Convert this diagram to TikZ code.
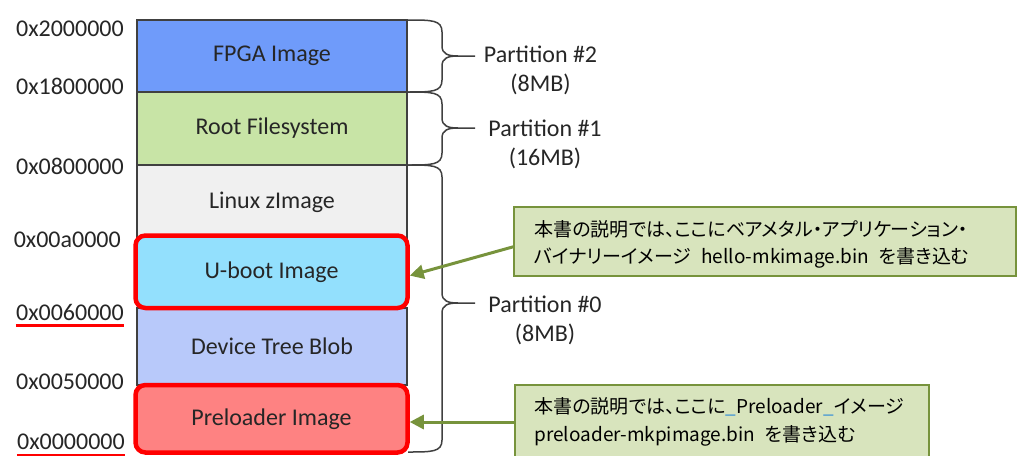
\documentclass[tikz,border=0pt]{standalone}
\usepackage{fontspec}
\setmainfont{Carlito}
\newfontfamily\cjkfont[RawFeature={+palt}]{Noto Sans CJK JP}
\usetikzlibrary{arrows.meta,calc}
\definecolor{fpgac}{HTML}{6F9BFA}
\definecolor{rootc}{HTML}{C8E4A6}
\definecolor{linuxc}{HTML}{F0F0F0}
\definecolor{ubootc}{HTML}{93E0FD}
\definecolor{dtbc}{HTML}{B8C9FA}
\definecolor{prec}{HTML}{FE8282}
\definecolor{edgec}{HTML}{404040}
\definecolor{txtc}{HTML}{262626}
\definecolor{hired}{HTML}{FF0000}
\definecolor{olivec}{HTML}{77933C}
\definecolor{calloutc}{HTML}{D8E4BD}
\definecolor{ulblue}{HTML}{2E8BD8}
\newcommand\mylbl{\fontsize{24}{29}\selectfont}
\newcommand\mycjk{\cjkfont\fontsize{19}{27.5}\selectfont}
\begin{document}
\begin{tikzpicture}[x=1pt,y=-1pt,
  sec/.style={draw=edgec, line width=1.5pt, minimum width=270pt, inner sep=0pt, font=\mylbl, text=txtc},
  hibox/.style={draw=hired, line width=4.5pt, rounded corners=10pt, minimum width=272pt, inner sep=0pt, font=\mylbl, text=txtc},
  addr/.style={anchor=east, inner sep=0pt, font=\mylbl, text=txtc},
  uline/.style={draw=hired, line width=3pt},
  brc/.style={draw=edgec, line width=1.5pt},
  part/.style={align=center, inner sep=0pt, font=\mylbl, text=txtc},
  callout/.style={draw=olivec, line width=1.5pt, fill=calloutc, inner sep=0pt},
  ctext/.style={anchor=west, align=left, inner sep=0pt, font=\mycjk, text=black},
  arr/.style={draw=olivec, line width=3pt, -{Triangle[length=14pt,width=14pt]}}]
\useasboundingbox (0,0) rectangle (1019,455);

% memory column
\node[sec, fill=fpgac, minimum height=72pt] (fpga) at (272,56) {FPGA Image};
\node[sec, fill=rootc, minimum height=73pt] (root) at (272,128.5) {Root Filesystem};
\node[sec, fill=linuxc, minimum height=75pt] (linux) at (272,202.5) {Linux zImage};
\node[sec, fill=dtbc, minimum height=77pt] (dtb) at (272,346.5) {Device Tree Blob};
\node[hibox, fill=ubootc, minimum height=72.5pt] (uboot) at (271.5,271.75) {U-boot Image};
\node[hibox, fill=prec, minimum height=67.5pt] (pre) at (271.5,418.75) {Preloader Image};

% addresses
\node[addr] (l1) at (124,29) {0x2000000};
\node[addr] (l2) at (124,86) {0x1800000};
\node[addr] (l3) at (124,166) {0x0800000};
\node[addr] (l4) at (121,240) {0x00a0000};
\node[addr] (l5) at (124,312) {0x0060000};
\node[addr] (l6) at (124,382) {0x0050000};
\node[addr] (l7) at (125,442) {0x0000000};
\draw[uline] ([yshift=-5.5pt]l5.base west) -- ([yshift=-5.5pt]l5.base east);
\draw[uline] ([yshift=-5.5pt]l7.base west) -- ([yshift=-5.5pt]l7.base east);

% braces
\draw[brc] (408,20) .. controls (432,20) and (442,20) .. (442,32) -- (442,46)
  .. controls (442,54) and (448,56) .. (458,56) -- (475,56);
\draw[brc] (408,92) .. controls (432,92) and (442,92) .. (442,80) -- (442,66)
  .. controls (442,58) and (448,56) .. (458,56);
\draw[brc] (408,92) .. controls (432,92) and (442,92) .. (442,104) -- (442,118)
  .. controls (442,126) and (448,128) .. (458,128) -- (475,128);
\draw[brc] (408,165) .. controls (432,165) and (442,165) .. (442,153) -- (442,138)
  .. controls (442,130) and (448,128) .. (458,128);
\draw[brc] (408,165) .. controls (432,165) and (442,165) .. (442,177) -- (442,293)
  .. controls (442,301) and (448,303) .. (458,303) -- (475,303);
\draw[brc] (408,452) .. controls (432,452) and (442,452) .. (442,440) -- (442,313)
  .. controls (442,305) and (448,303) .. (458,303);

% partition labels
\node[part] (p2) at (540.5,70.5) {Partition \#2\\(8MB)};
\node[part] (p1) at (545,144) {Partition \#1\\(16MB)};
\node[part] (p0) at (545,320) {Partition \#0\\(8MB)};

% callouts
\node[callout, minimum width=502pt, minimum height=69pt] (c1) at (765,241.5) {};
\node[ctext] (t1) at ([xshift=21pt,yshift=-3pt]c1.west)
  {本書の説明では、ここにベアメタル・アプリケーション・\\バイナリーイメージ\hspace{10pt}hello-mkimage.bin\hspace{10pt}を書き込む};
\node[callout, minimum width=414pt, minimum height=74pt] (c2) at (722,422) {};
\node[ctext] (t2) at ([xshift=20pt,yshift=0pt]c2.west)
  {本書の説明では、ここに\textcolor{ulblue}{\_}Preloader\textcolor{ulblue}{\_}イメージ\\preloader-mkpimage.bin\hspace{10pt}を書き込む};

% arrows
\draw[arr] ($(c1.north west)!0.575!(c1.south west)$) -- ($(uboot.north east)!0.55!(uboot.south east)$);
\draw[arr] (c2.west) -- (c2.west -| pre.east);
\end{tikzpicture}
\end{document}
